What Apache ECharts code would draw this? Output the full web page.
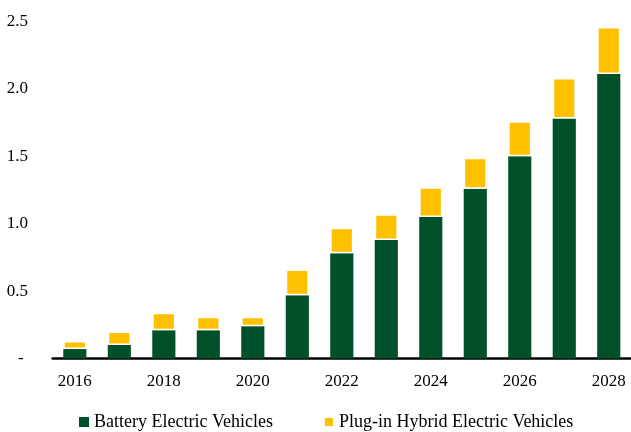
<!DOCTYPE html>
<html>
<head>
<meta charset="utf-8">
<script src="https://cdn.jsdelivr.net/npm/echarts@6/dist/echarts.min.js"></script>
<style>html,body{margin:0;padding:0;background:#fff;}#c{width:631px;height:432px;}</style>
</head>
<body>
<div id="c"></div>
<script>
const years = ['2016','2017','2018','2019','2020','2021','2022','2023','2024','2025','2026','2027','2028'];
const bev = [0.07, 0.10, 0.21, 0.21, 0.24, 0.47, 0.78, 0.88, 1.05, 1.26, 1.50, 1.78, 2.11];
const phev = [0.06, 0.10, 0.13, 0.10, 0.07, 0.19, 0.19, 0.19, 0.22, 0.23, 0.26, 0.30, 0.35];
const seriesNames = ['Battery Electric Vehicles', 'Plug-in Hybrid Electric Vehicles'];
const yTicks = {min: 0, max: 2.5, interval: 0.5};

const font = '"Liberation Serif", "Times New Roman", serif';
const chart = echarts.init(document.getElementById('c'), null, {renderer: 'canvas'});
chart.setOption({
  animation: false,
  textStyle: {fontFamily: font},
  grid: {left: 52.6, right: -4.4, top: 21.5, bottom: 73.5, containLabel: false},
  legend: {
    left: 74, top: 408, itemWidth: 10, itemHeight: 10, itemGap: 50, icon: 'rect',
    textStyle: {fontFamily: font, fontSize: 18, color: '#000'},
    data: seriesNames
  },
  xAxis: {
    type: 'category', data: years,
    axisLine: {lineStyle: {color: '#000', width: 2.5}},
    axisTick: {show: false},
    axisLabel: {interval: 1, margin: 15, fontFamily: font, fontSize: 17, color: '#000'}
  },
  yAxis: {
    type: 'value', min: yTicks.min, max: yTicks.max, interval: yTicks.interval,
    axisLine: {show: false}, axisTick: {show: false}, splitLine: {show: false},
    axisLabel: {margin: 24.6, fontFamily: font, fontSize: 17, color: '#000',
      formatter: v => v === 0 ? '- ' : v.toFixed(1)}
  },
  series: [
    {name: seriesNames[0], type: 'bar', stack: 'total', data: bev, barWidth: '52%',
     itemStyle: {color: '#00502A'}},
    {name: seriesNames[1], type: 'bar', stack: 'total', data: phev, barWidth: '52%',
     itemStyle: {color: '#FFC000', borderColor: '#fff', borderWidth: 1.5}}
  ]
});
</script>
</body>
</html>
